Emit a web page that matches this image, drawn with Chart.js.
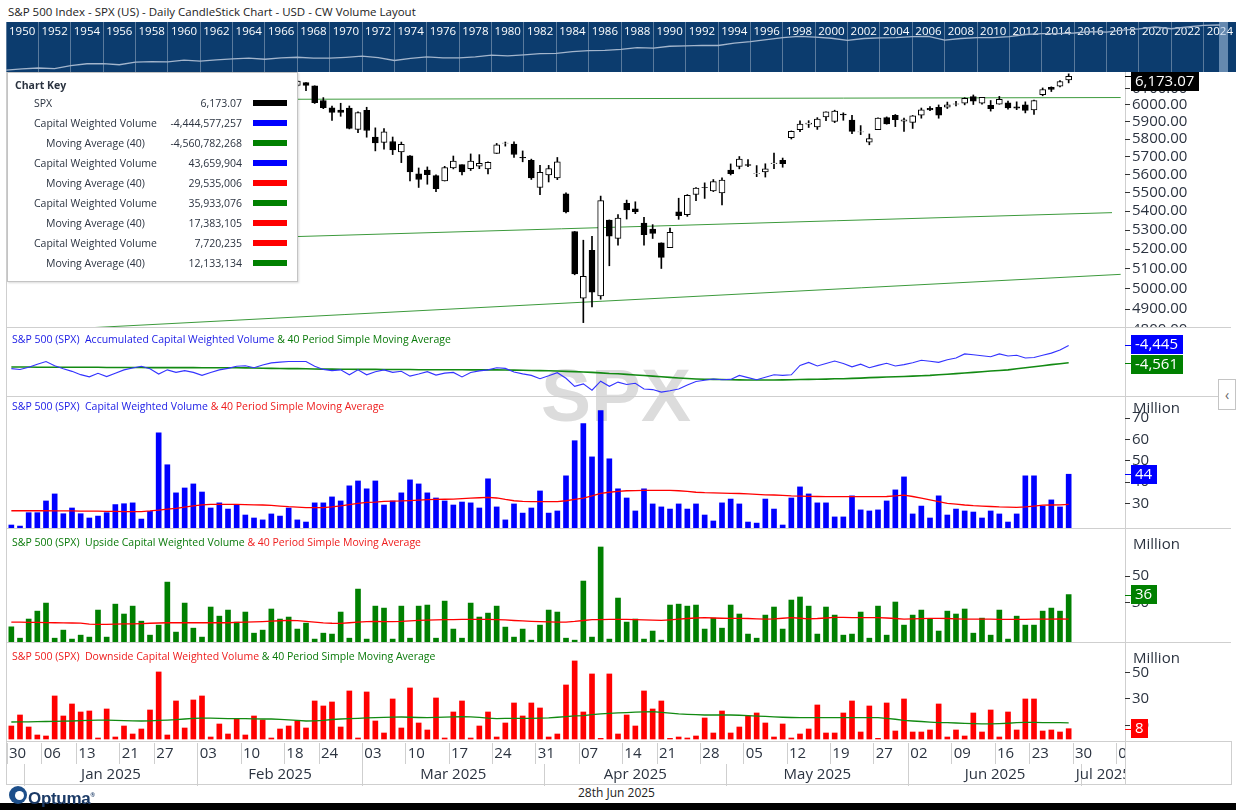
<!DOCTYPE html>
<html><head><meta charset="utf-8">
<title>S&P 500 CW Volume Layout</title>
<script src="https://cdn.jsdelivr.net/npm/chart.js@4.4.1/dist/chart.umd.min.js"></script>
<style>
html,body{margin:0;padding:0;background:#fff;}
#root{position:relative;width:1236px;height:810px;overflow:hidden;font-family:"Open Sans",sans-serif;color:#2b3340;}
#root canvas{position:absolute;z-index:2;}
.ln{position:absolute;background:#cfcfcf;z-index:1;}
.ttl{position:absolute;left:12px;font-size:10.5px;white-space:nowrap;line-height:14px;z-index:3;}
.mil{position:absolute;left:1133px;font-size:15px;line-height:18px;color:#2b3340;z-index:3;}
#key{position:absolute;left:7px;top:72px;width:289px;height:208px;background:#fff;border:1px solid #c4c4c4;box-shadow:1px 1px 2px rgba(0,0,0,0.15);z-index:5;font-size:10.5px;color:#2b3340;}
#key div{position:absolute;white-space:nowrap;line-height:14px;}
#wm{position:absolute;left:541px;top:358px;font-family:"Liberation Sans",sans-serif;font-weight:bold;font-size:75px;line-height:75px;color:#dcdcdc;z-index:0;}
#band{position:absolute;top:22px;height:50px;background:rgba(175,200,230,0.55);z-index:3;}
</style></head>
<body>
<div id="root">
  <div style="position:absolute;left:8px;top:4px;font-size:11.5px;line-height:16px;color:#222;">S&amp;P 500 Index - SPX (US) - Daily CandleStick Chart - USD - CW Volume Layout</div>
  <div style="position:absolute;left:6px;top:22px;width:1230px;height:50px;background:#0c3c6e;"></div>
  <div id="wm">SPX</div>

  <div class="ln" style="left:6px;top:72px;width:1px;height:713px;"></div>
  <div class="ln" style="left:1125px;top:72px;width:1px;height:713px;"></div>
  <div class="ln" style="left:6px;top:327px;width:1225px;height:1px;"></div>
  <div class="ln" style="left:6px;top:396px;width:1225px;height:1px;"></div>
  <div class="ln" style="left:6px;top:528px;width:1225px;height:1px;"></div>
  <div class="ln" style="left:6px;top:642px;width:1225px;height:1px;"></div>
  <div class="ln" style="left:6px;top:741px;width:1225px;height:1px;"></div>
  <div class="ln" style="left:6px;top:784px;width:1225px;height:1px;"></div>
  <div class="ln" style="left:1231px;top:741px;width:1px;height:44px;"></div>

  <canvas id="cOver" width="1230" height="50" style="left:6px;top:22px;"></canvas>
  <div id="band"></div>
  <canvas id="cPrice" width="1236" height="255" style="left:0;top:72px;"></canvas>
  <canvas id="cAcc" width="1236" height="69" style="left:0;top:327px;"></canvas>
  <canvas id="cCw" width="1236" height="132" style="left:0;top:396px;"></canvas>
  <canvas id="cUp" width="1236" height="114" style="left:0;top:528px;"></canvas>
  <canvas id="cDown" width="1236" height="99" style="left:0;top:642px;"></canvas>
  <canvas id="cDates" width="1125" height="45" style="left:0;top:741px;"></canvas>

  <div class="ttl" style="top:332px;color:#1a1ae6;">S&amp;P 500 (SPX)&nbsp; Accumulated Capital Weighted Volume <span style="color:#0a7a0a;">&amp; 40 Period Simple Moving Average</span></div>
  <div class="ttl" style="top:399px;color:#1a1ae6;">S&amp;P 500 (SPX)&nbsp; Capital Weighted Volume <span style="color:#ee1c1c;">&amp; 40 Period Simple Moving Average</span></div>
  <div class="ttl" style="top:535px;color:#0a7a0a;">S&amp;P 500 (SPX)&nbsp; Upside Capital Weighted Volume <span style="color:#ee1c1c;">&amp; 40 Period Simple Moving Average</span></div>
  <div class="ttl" style="top:649px;color:#ee1c1c;">S&amp;P 500 (SPX)&nbsp; Downside Capital Weighted Volume <span style="color:#0a7a0a;">&amp; 40 Period Simple Moving Average</span></div>

  <div class="mil" style="top:398px;">Million</div>
  <div class="mil" style="top:534px;">Million</div>
  <div class="mil" style="top:648px;">Million</div>

  <div id="key"></div>

  <div style="position:absolute;left:1218px;top:379px;width:16px;height:29px;background:#fff;border:1px solid #c4c4c4;z-index:4;font-size:14px;line-height:29px;text-align:center;color:#666;">&#8249;</div>

  <div style="position:absolute;left:9px;top:786px;width:18px;height:18px;border-radius:50%;background:#1d4f8a;z-index:3;"></div>
  <div style="position:absolute;left:15px;top:791px;width:9px;height:9px;border-radius:50%;background:#fff;z-index:3;"></div>
  <div style="position:absolute;left:28px;top:784px;font-family:'Liberation Sans Narrow','Liberation Sans',sans-serif;font-weight:bold;font-size:17px;line-height:22px;color:#1b3a66;letter-spacing:-0.3px;z-index:3;">Optuma<sup style="font-size:6px;">&reg;</sup></div>
  <div style="position:absolute;left:578px;top:785px;font-size:12px;line-height:16px;color:#222;">28th Jun 2025</div>
  <div style="position:absolute;left:0;top:803px;width:1236px;height:7px;background:#000;"></div>
</div>

<script>
// ---------------- DATA ----------------
const dates = [
'2024-12-30','2024-12-31','2025-01-02','2025-01-03','2025-01-06','2025-01-07','2025-01-08','2025-01-10',
'2025-01-13','2025-01-14','2025-01-15','2025-01-16','2025-01-17',
'2025-01-21','2025-01-22','2025-01-23','2025-01-24',
'2025-01-27','2025-01-28','2025-01-29','2025-01-30','2025-01-31',
'2025-02-03','2025-02-04','2025-02-05','2025-02-06','2025-02-07',
'2025-02-10','2025-02-11','2025-02-12','2025-02-13','2025-02-14',
'2025-02-18','2025-02-19','2025-02-20','2025-02-21',
'2025-02-24','2025-02-25','2025-02-26','2025-02-27','2025-02-28',
'2025-03-03','2025-03-04','2025-03-05','2025-03-06','2025-03-07',
'2025-03-10','2025-03-11','2025-03-12','2025-03-13','2025-03-14',
'2025-03-17','2025-03-18','2025-03-19','2025-03-20','2025-03-21',
'2025-03-24','2025-03-25','2025-03-26','2025-03-27','2025-03-28',
'2025-03-31','2025-04-01','2025-04-02','2025-04-03','2025-04-04',
'2025-04-07','2025-04-08','2025-04-09','2025-04-10','2025-04-11',
'2025-04-14','2025-04-15','2025-04-16','2025-04-17',
'2025-04-21','2025-04-22','2025-04-23','2025-04-24','2025-04-25',
'2025-04-28','2025-04-29','2025-04-30','2025-05-01','2025-05-02',
'2025-05-05','2025-05-06','2025-05-07','2025-05-08','2025-05-09',
'2025-05-12','2025-05-13','2025-05-14','2025-05-15','2025-05-16',
'2025-05-19','2025-05-20','2025-05-21','2025-05-22','2025-05-23',
'2025-05-27','2025-05-28','2025-05-29','2025-05-30',
'2025-06-02','2025-06-03','2025-06-04','2025-06-05','2025-06-06',
'2025-06-09','2025-06-10','2025-06-11','2025-06-12','2025-06-13',
'2025-06-16','2025-06-17','2025-06-18','2025-06-20',
'2025-06-23','2025-06-24','2025-06-25','2025-06-26','2025-06-27',
'2025-06-30','2025-07-01','2025-07-02','2025-07-03','2025-07-04','2025-07-07'];

const open = [5920.67,5919.74,5903.26,5891.07,5982.81,5993.26,5910.66,5890.32,
5786.99,5859.0,5905.0,5966.0,5982.0,
6014.0,6081.0,6076.0,6121.0,
5969.0,6026.0,6057.0,6050.0,6096.0,
5969.0,5998.0,6020.0,6072.0,6083.0,
6046.0,6049.0,6025.0,6060.0,6115.0,
6121.0,6117.0,6134.0,6114.0,
6026.0,5982.0,5970.0,5981.0,5856.0,
5968.0,5812.0,5781.0,5786.0,5726.0,
5705.0,5604.0,5625.0,5594.0,5564.0,
5636.0,5655.0,5632.0,5647.0,5631.0,
5718.0,5776.0,5772.0,5696.0,5679.0,
5528.0,5598.0,5581.0,5493.0,5292.0,
4954.0,5194.0,4965.0,5353.0,5256.0,
5442.0,5412.0,5336.0,5305.0,
5233.0,5208.0,5396.0,5381.0,5490.0,
5529.0,5509.0,5499.0,5625.0,5645.0,
5655.0,5606.0,5614.0,5660.0,5679.0,
5808.0,5854.0,5887.0,5870.0,5929.0,
5903.0,5945.0,5911.0,5841.0,5782.0,
5854.0,5925.0,5939.0,5904.0,
5897.0,5939.0,5979.0,5986.0,5987.0,
6005.0,6010.0,6049.0,6010.0,5997.0,
6004.0,6012.0,5988.0,6000.0,
5970.0,6061.0,6105.0,6112.0,6151.0];

const high = [5940.79,5929.74,5935.09,5949.34,6021.04,6000.68,5927.89,5890.32,
5837.14,5871.0,5960.0,5967.0,6014.0,
6051.0,6100.0,6118.7,6128.2,
6017.0,6074.0,6062.0,6086.0,6121.0,
6022.0,6042.0,6062.0,6084.0,6101.0,
6073.0,6076.0,6063.0,6116.0,6127.0,
6129.6,6147.4,6134.5,6114.8,
6043.6,5992.7,6009.8,5993.7,5959.4,
5986.0,5865.0,5860.6,5812.0,5783.0,
5705.4,5636.3,5642.2,5597.8,5645.3,
5703.5,5654.5,5715.3,5711.2,5670.8,
5775.1,5783.2,5784.0,5732.3,5685.9,
5650.6,5650.8,5695.3,5499.5,5292.1,
5246.7,5267.5,5481.3,5353.2,5381.5,
5459.5,5450.4,5367.2,5328.3,
5232.9,5309.6,5469.7,5489.4,5528.1,
5553.7,5572.0,5581.8,5658.9,5700.7,
5684.0,5649.6,5659.8,5720.1,5692.0,
5847.2,5906.6,5906.8,5924.7,5958.6,
5968.6,5953.1,5938.4,5878.1,5829.5,
5924.3,5929.0,5943.1,5922.1,
5937.4,5981.4,5990.5,5999.7,6016.9,
6021.3,6043.0,6059.4,6045.4,6026.2,
6050.8,6023.3,6018.3,6018.2,
6028.1,6101.8,6108.5,6146.5,6187.7];

const low = [5869.16,5868.86,5829.53,5888.66,5960.01,5890.68,5874.78,5809.0,
5773.31,5805.0,5905.0,5932.0,5974.0,
6006.0,6076.0,6074.0,6088.0,
5962.0,5994.0,6012.0,6032.0,6030.0,
5923.9,5990.0,6007.0,6046.0,6019.0,
6044.0,6042.0,6003.0,6051.0,6107.0,
6099.0,6111.0,6084.6,6008.6,
5977.8,5908.5,5932.7,5858.8,5837.7,
5810.9,5732.6,5742.4,5711.6,5666.3,
5564.0,5528.4,5546.1,5504.7,5563.9,
5631.1,5597.8,5622.2,5632.3,5603.1,
5718.1,5759.7,5695.8,5670.9,5572.4,
5488.7,5558.5,5571.5,5390.8,5069.9,
4835.0,4910.4,4948.4,5115.3,5220.8,
5358.0,5386.4,5220.8,5255.6,
5101.6,5207.7,5356.4,5372.0,5455.9,
5468.6,5505.7,5433.2,5597.4,5631.3,
5643.3,5587.9,5585.7,5632.7,5640.3,
5800.5,5843.1,5867.1,5855.9,5907.4,
5895.7,5909.3,5830.9,5825.8,5767.4,
5854.1,5886.3,5872.1,5843.7,
5861.4,5921.4,5966.1,5921.2,5978.6,
5994.2,6000.3,6002.3,6003.9,5963.2,
6004.0,5974.8,5971.9,5952.6,
5943.2,6054.6,6080.1,6107.3,6132.4];

const close = [5906.94,5881.63,5868.55,5942.47,5975.38,5909.03,5918.25,5827.04,
5836.22,5842.91,5949.91,5937.34,5996.66,
6049.24,6086.37,6118.71,6101.24,
6012.28,6067.70,6039.31,6071.17,6040.53,
5994.57,6037.88,6061.48,6083.57,6025.99,
6066.44,6068.50,6051.97,6115.07,6114.63,
6129.58,6144.15,6117.52,6013.13,
5983.25,5955.25,5956.06,5861.57,5954.50,
5849.72,5778.15,5842.63,5738.52,5770.20,
5614.56,5572.07,5599.30,5521.52,5638.94,
5675.12,5614.66,5675.29,5662.89,5667.56,
5767.57,5776.65,5712.20,5693.31,5580.94,
5611.85,5633.07,5670.97,5396.52,5074.08,
5062.25,4982.77,5456.90,5268.05,5363.36,
5405.97,5396.63,5275.70,5282.70,
5158.20,5287.76,5375.86,5484.77,5525.21,
5528.75,5560.83,5569.06,5604.14,5686.67,
5650.38,5606.91,5631.28,5663.94,5659.91,
5844.19,5886.55,5892.58,5916.93,5958.38,
5963.60,5940.46,5844.61,5842.01,5802.82,
5921.54,5888.55,5912.17,5911.69,
5935.94,5970.37,5970.81,5939.30,6000.36,
6005.88,6038.81,6022.24,6045.26,5976.97,
6033.11,5982.72,5980.87,5967.84,
6025.17,6092.18,6092.16,6141.02,6173.07];

// trend lines drawn on the price panel: [start value, end value]
const trendUpper = [6030, 6044];
const trendUpperDates = ['2024-12-30', '2025-07-07'];
const trendMiddle = [5222, 5392];
const trendMiddleDates = ['2024-12-30', '2025-07-04'];
const trendLower = [4791, 5072];
const trendLowerDates = ['2024-12-30', '2025-07-07'];

// Accumulated capital weighted volume (millions) and its 40 period SMA
const accumCW = [-4600,-4606,-4590,-4570,-4552,-4580,-4600,-4618,-4640,-4655,
-4631,-4653,-4630,-4608,-4595,-4584,-4601,-4636,-4608,-4625,
-4613,-4625,-4645,-4625,-4608,-4598,-4584,-4580,-4594,-4575,
-4561,-4556,-4552,-4552,-4552,-4584,-4605,-4613,-4608,-4641,
-4608,-4641,-4620,-4608,-4625,-4617,-4650,-4636,-4620,-4643,
-4630,-4625,-4655,-4625,-4615,-4608,-4594,-4598,-4622,-4635,
-4645,-4667,-4648,-4627,-4664,-4718,-4702,-4744,-4684,-4718,
-4690,-4706,-4698,-4736,-4740,-4757,-4748,-4736,-4710,-4686,
-4678,-4669,-4674,-4672,-4645,-4660,-4674,-4658,-4641,-4645,
-4641,-4578,-4558,-4582,-4565,-4549,-4565,-4588,-4570,-4594,
-4578,-4564,-4582,-4573,-4560,-4544,-4550,-4558,-4540,-4529,
-4501,-4507,-4513,-4520,-4501,-4515,-4510,-4529,-4525,-4510,
-4496,-4475,-4444.58];

const accumCWMA = [-4589,-4589,-4589,-4590,-4590,-4590,-4590,-4591,-4591,-4591,
-4591,-4592,-4592,-4592,-4592,-4592,-4593,-4593,-4593,-4593,
-4593,-4593,-4594,-4594,-4594,-4594,-4594,-4595,-4596,-4597,
-4598,-4599,-4600,-4600,-4601,-4602,-4603,-4603,-4604,-4604,
-4605,-4605,-4605,-4606,-4606,-4606,-4606,-4607,-4607,-4607,
-4607,-4607,-4607,-4608,-4608,-4608,-4608,-4609,-4610,-4611,
-4612,-4613,-4614,-4616,-4618,-4620,-4622,-4625,-4628,-4632,
-4634,-4638,-4642,-4646,-4650,-4654,-4658,-4662,-4666,-4669,
-4671,-4672,-4673,-4674,-4675,-4676,-4676,-4676,-4676,-4675,
-4674,-4673,-4672,-4671,-4670,-4668,-4667,-4665,-4663,-4660,
-4658,-4656,-4654,-4652,-4650,-4647,-4645,-4641,-4637,-4633,
-4629,-4625,-4621,-4616,-4612,-4608,-4601,-4594,-4587,-4580,
-4573,-4567,-4560.78];

// Capital weighted volume (millions) and its 40 period SMA
const cwVolume = [19.8,19.3,25.6,25.6,31.1,34.4,25.1,27.8,25.1,23.1,
24.0,25.6,29.4,29.8,30.2,22.6,26.2,63.1,48.1,34.9,
37.2,39.1,35.3,27.8,30.2,27.3,29.4,24.5,23.1,22.2,
25.0,24.0,27.8,22.2,21.2,30.2,30.2,33.0,31.1,38.2,
40.5,36.8,40.5,29.2,31.1,34.9,41.0,39.1,34.9,32.5,
31.1,29.2,30.6,30.2,27.8,41.5,28.3,22.2,29.7,25.4,
27.8,35.8,25.4,26.4,42.9,59.4,67.4,51.8,73.5,50.9,
36.8,32.5,26.4,36.8,29.7,28.3,27.3,29.7,27.3,29.7,
24.5,21.7,30.2,32.0,29.7,21.2,20.7,32.0,27.3,19.8,
32.5,37.7,34.4,30.2,30.2,23.6,23.6,33.5,26.9,26.4,
26.9,31.1,36.3,42.4,25.0,28.7,23.1,33.5,24.5,27.3,
26.4,25.9,23.1,26.4,25.0,21.2,25.0,42.9,42.9,28.7,
31.6,28.3,43.66];

const cwVolumeMA = [26.5,26.5,26.5,26.5,26.5,26.4,26.4,26.4,26.3,26.3,
26.3,26.2,26.2,26.1,26.1,26.1,26.4,26.8,27.3,27.6,
28.2,28.8,29.3,29.5,29.5,29.5,29.5,29.4,29.3,29.2,
29.0,28.7,28.4,28.2,28.0,28.0,28.0,28.3,28.8,29.4,
30.0,30.4,30.6,30.9,31.0,31.1,31.3,31.5,31.7,31.8,
31.9,32.0,32.2,32.4,32.6,32.8,32.5,31.8,31.2,30.9,
30.8,30.8,30.8,30.8,31.2,31.8,32.4,33.5,34.7,35.2,
35.6,35.9,36.0,36.1,36.1,36.1,36.1,35.9,35.6,35.2,
35.0,34.9,34.8,34.7,34.6,34.4,34.2,34.0,33.9,33.7,
33.5,33.4,33.3,33.2,33.1,33.1,33.1,33.1,33.1,33.1,
33.1,33.2,33.5,33.8,33.2,32.4,31.6,30.8,30.0,29.6,
29.2,28.9,28.7,28.5,28.3,28.2,28.1,28.3,28.7,29.1,
29.2,29.3,29.54];

// Upside capital weighted volume (millions) and its 40 period SMA
const upVolume = [11.5,2.9,17.4,23.4,29.5,2.9,9.0,2.2,5.2,3.7,
24.2,3.7,28.7,21.2,27.2,15.8,5.2,12.8,45.4,7.5,
29.5,10.5,3.7,26.5,19.6,24.2,15.1,22.7,6.7,9.0,
25.0,17.4,18.9,9.8,14.3,2.2,6.7,6.0,22.7,2.9,
40.1,2.2,27.2,25.7,2.2,27.2,2.9,27.2,28.0,2.9,
31.0,9.8,2.9,29.5,18.9,21.9,27.2,11.3,3.7,9.8,
1.4,12.8,24.2,22.7,2.9,1.4,46.2,3.7,72.0,2.2,
33.3,15.1,17.4,2.2,8.3,1.4,28.0,28.7,27.2,28.0,
9.8,18.1,10.5,28.0,21.2,6.0,2.9,20.4,26.5,9.8,
31.8,34.1,27.2,6.0,26.5,20.4,5.2,6.0,22.7,2.9,
27.2,5.2,30.3,12.8,20.4,24.2,17.4,8.3,23.4,21.2,
25.0,6.7,18.1,5.2,24.2,2.2,19.6,12.8,12.8,23.4,
25.7,23.4,35.93];

const upVolumeMA = [15.1,15.0,14.9,14.8,14.7,14.6,14.5,14.4,
14.3,13.5,13.3,13.4,13.6,13.7,13.8,14.0,
14.2,14.4,14.6,14.6,14.6,14.6,14.6,14.6,14.6,14.6,
14.8,15.0,15.2,15.5,15.8,16.1,16.4,16.2,15.6,15.0,
14.5,14.2,14.1,14.6,15.1,15.5,15.6,15.4,15.5,15.6,
16.0,16.4,16.6,16.7,16.9,17.0,17.1,17.1,17.1,17.1,
17.0,16.7,16.3,16.0,15.7,15.4,15.2,15.1,15.1,15.6,
16.3,16.9,17.0,17.1,17.1,17.1,17.0,16.8,16.6,16.4,
16.8,17.3,17.8,18.2,18.4,18.2,18.0,17.9,17.9,17.8,
17.6,17.4,17.6,18.0,18.4,18.0,17.6,17.8,18.2,18.6,
18.6,18.5,18.4,18.4,18.4,18.2,17.8,17.4,17.5,17.7,
17.9,17.9,17.8,17.6,17.4,17.4,17.4,17.3,17.2,17.1,
17.1,17.2,17.3,17.4,17.4,17.5,17.38];

// Downside capital weighted volume (millions) and its 40 period SMA
const downVolume = [9.75,18,9,3,2.25,32.25,17.25,26.25,20.25,21,
0.75,22.5,1.5,9.75,3.75,7.5,21.75,50.25,3,28.5,
8.25,29.25,32.25,1.5,11.25,3.75,15,3,17.25,14.25,
0.75,7.5,9.75,13.5,8.25,28.5,24.75,27.75,9,36,
0.75,35.25,13.5,4.5,30,8.25,38.25,12,6.75,30.75,
0.75,20.25,28.5,0.75,9.75,20.25,1.5,12,27,17.25,
27,23.25,1.5,3.75,40.5,58.5,20.25,48.75,0.5,48.75,
3.75,18,9.75,36,22.5,28.5,0.5,1.5,0.75,2.25,
15.75,4.5,21,4.5,9,17.25,19.5,12,1.5,11.25,
0.75,3.75,7.5,25.5,4.5,4.5,19.5,28.5,5.25,24.75,
0.5,27,6,30,5.25,5.25,6.75,26.25,1.5,6.75,
2.25,19.5,5.25,21.75,1.5,20.25,6.75,30,30,6,
6.75,5.25,7.72];

const downVolumeMA = [12.75,12.8,12.9,13.0,13.1,13.2,13.4,13.5,
13.7,14.0,14.2,14.2,14.0,13.8,13.6,13.5,
13.6,13.9,14.2,14.5,15.0,15.5,15.7,15.6,15.4,15.3,
15.2,15.2,15.1,15.0,15.0,14.7,14.3,13.9,13.5,13.6,
14.0,14.6,15.0,15.3,15.5,15.8,16.0,16.2,16.4,16.5,
16.3,16.1,16.0,16.2,16.4,16.6,16.8,16.6,16.2,15.6,
15.3,15.4,15.5,15.5,15.5,15.6,15.8,16.3,16.8,17.3,
17.5,18.2,18.8,19.2,19.6,19.8,20.1,20.4,20.5,20.0,
19.4,18.8,18.5,18.2,18.0,18.0,18.0,18.0,17.8,17.5,
17.2,16.9,16.6,16.3,16.1,16.0,16.0,16.0,16.0,16.0,
16.0,16.0,16.0,16.0,16.0,15.5,14.8,14.0,13.5,13.1,
12.7,12.3,12.2,12.0,11.7,11.5,11.3,11.3,11.5,11.8,
12.2,12.5,12.4,12.3,12.2,12.2,12.13];

// Axis tick values
const priceTicks = [4800,4900,5000,5100,5200,5300,5400,5500,5600,5700,5800,5900,6000,6100];
const cwTicks = [30,40,50,60,70];
const upTicks = [30,50];
const downTicks = [10,30,50];

// Overview strip: S&P 500 year-end history
const overviewYears = [1950,1951,1952,1953,1954,1955,1956,1957,1958,1959,1960,1961,1962,1963,1964,1965,1966,1967,1968,1969,
1970,1971,1972,1973,1974,1975,1976,1977,1978,1979,1980,1981,1982,1983,1984,1985,1986,1987,1988,1989,
1990,1991,1992,1993,1994,1995,1996,1997,1998,1999,2000,2001,2002,2003,2004,2005,2006,2007,2008,2009,
2010,2011,2012,2013,2014,2015,2016,2017,2018,2019,2020,2021,2022,2023,2024,2025];
const overviewClose = [20.41,23.77,26.57,24.81,35.98,45.48,46.67,39.99,55.21,59.89,58.11,71.55,63.10,75.02,84.75,92.43,80.33,96.47,103.86,92.06,
92.15,102.09,118.05,97.55,68.56,90.19,107.46,95.10,96.11,107.94,135.76,122.55,140.64,164.93,167.24,211.28,242.17,247.08,277.72,353.40,
330.22,417.09,435.71,466.45,459.27,615.93,740.74,970.43,1229.23,1469.25,1320.28,1148.08,879.82,1111.92,1211.92,1248.29,1418.30,1468.36,903.25,1115.10,
1257.64,1257.60,1426.19,1848.36,2058.90,2043.94,2238.83,2673.61,2506.85,3230.78,3756.07,4766.18,3839.50,4769.83,5881.63,6173.07];
const overviewLabels = ['1950','1952','1954','1956','1958','1960','1962','1964','1966','1968','1970','1972','1974','1976','1978','1980','1982','1984','1986',
'1988','1990','1992','1994','1996','1998','2000','2002','2004','2006','2008','2010','2012','2014','2016','2018','2020','2022','2024'];
const viewWindow = [2024.95, 2025.5];

// Chart key
const keyLabels = ['SPX','Capital Weighted Volume','Moving Average (40)','Capital Weighted Volume','Moving Average (40)','Capital Weighted Volume','Moving Average (40)','Capital Weighted Volume','Moving Average (40)'];
const keyValues = ['6,173.07','-4,444,577,257','-4,560,782,268','43,659,904','29,535,006','35,933,076','17,383,105','7,720,235','12,133,134'];
const keyColors = ['#000000','#0000ff','#008000','#0000ff','#ff0000','#008000','#ff0000','#ff0000','#008000'];

// ---------------- KEY BOX ----------------
(function(){
  const k = document.getElementById('key');
  let h = '<div style="left:7px;top:5px;font-weight:bold;">Chart Key</div>';
  keyLabels.forEach((lab,i)=>{
    const cy = 30 + 20*i;
    const indent = lab.indexOf('Moving') === 0 ? 38 : 26;
    h += '<div style="left:'+indent+'px;top:'+(cy-7)+'px;">'+lab+'</div>';
    h += '<div style="left:120px;width:114px;text-align:right;top:'+(cy-7)+'px;">'+keyValues[i]+'</div>';
    h += '<div style="left:245px;top:'+(cy-3)+'px;width:34px;height:6px;background:'+keyColors[i]+';"></div>';
  });
  k.innerHTML = h;
})();

// ---------------- CHART SETUP ----------------
const AX = '#2b3340';
Chart.defaults.font.family = '"Open Sans", sans-serif';

const lastValueBox = {
  id: 'lastValueBox',
  afterDraw(chart, args, opts) {
    const items = (opts && opts.items) || [];
    if (!items.length) return;
    const ctx = chart.ctx, ca = chart.chartArea, ys = chart.scales.y;
    ctx.save();
    ctx.font = '15px "Open Sans", sans-serif';
    const H = 19;
    const bx = items.map(it => {
      const v = it.values[it.values.length - 1];
      const y = ys.getPixelForValue(v);
      const txt = it.fmt(v);
      const w = Math.ceil(ctx.measureText(txt).width) + 8;
      return {it, y, txt, w, top: y - H / 2};
    });
    bx.sort((a, b) => a.y - b.y);
    for (let k = 1; k < bx.length; k++) {
      const p = bx[k - 1], q = bx[k];
      const ov = p.top + H + 1 - q.top;
      if (ov > 0) { p.top -= ov / 2; q.top += ov / 2; }
    }
    bx.forEach(b => {
      b.top = Math.round(Math.max(ca.top, Math.min(ca.bottom - H, b.top)));
      const x0 = Math.round(ca.right) + 6;
      ctx.strokeStyle = b.it.bg; ctx.lineWidth = 1;
      ctx.beginPath(); ctx.moveTo(ca.right, Math.round(b.y) + 0.5); ctx.lineTo(x0, Math.round(b.y) + 0.5); ctx.stroke();
      ctx.fillStyle = b.it.bg; ctx.fillRect(x0, b.top, b.w, H);
      ctx.fillStyle = '#fff'; ctx.textBaseline = 'middle'; ctx.textAlign = 'left';
      ctx.fillText(b.txt, x0 + 4, b.top + H / 2 + 0.5);
    });
    ctx.restore();
  }
};
Chart.register(lastValueBox);

function baseOptions(scales, boxes) {
  return {
    responsive: false, animation: false, devicePixelRatio: 1,
    layout: {padding: {left: 7, right: 0, top: 0, bottom: 0}},
    plugins: {legend: {display: false}, tooltip: {enabled: false}, lastValueBox: {items: boxes || []}},
    scales: scales
  };
}
function hiddenX() {
  return {type: 'category', labels: dates, offset: true, display: false, grid: {display: false}};
}
function rightY(min, max, ticksArr, fmt, type) {
  return {
    type: type || 'linear', position: 'right', min: min, max: max,
    afterBuildTicks: s => { s.ticks = ticksArr.map(v => ({value: v})); },
    afterFit: s => { s.width = 111; s.paddingTop = 0; s.paddingBottom = 0; },
    grid: {drawOnChartArea: false, drawTicks: true, tickLength: 5, color: '#333'},
    border: {display: false},
    ticks: {color: AX, font: {size: 15}, padding: 2, autoSkip: false, callback: fmt}
  };
}
const lineDs = (data, color, width) => ({type: 'line', data: data, borderColor: color, borderWidth: width, pointRadius: 0, tension: 0, fill: false});
const barDs = (data, color) => ({type: 'bar', data: data, backgroundColor: color, barThickness: 5, order: 2});

// ---------------- OVERVIEW STRIP ----------------
const overChart = new Chart(document.getElementById('cOver'), {
  type: 'line',
  data: {datasets: [
    {type: 'line', xAxisID: 'x', yAxisID: 'y', data: overviewYears.map((yr, i) => ({x: yr, y: overviewClose[i]})),
     borderColor: '#a3b5cc', borderWidth: 1.3, pointRadius: 0, tension: 0}
  ]},
  options: {
    responsive: false, animation: false, devicePixelRatio: 1,
    layout: {padding: 0},
    plugins: {legend: {display: false}, tooltip: {enabled: false}},
    scales: {
      x: {type: 'linear', min: 1950, max: 2026, display: false, offset: false},
      y: {type: 'logarithmic', min: 16, max: 9000, display: false},
      xl: {type: 'category', labels: overviewLabels, offset: true, position: 'bottom',
        afterFit: s => { s.height = 0; s.paddingLeft = 0; s.paddingRight = 0; },
        grid: {offset: true, drawOnChartArea: true, drawTicks: false, color: 'rgba(255,255,255,0.32)'},
        border: {display: false},
        ticks: {color: '#ffffff', font: {size: 11.5}, mirror: true, padding: 33, autoSkip: false, maxRotation: 0}}
    }
  }
});
// visible-window marker, placed with the overview chart's own x scale
(function(){
  const xs = overChart.scales.x;
  const a = xs.getPixelForValue(viewWindow[0]), b = xs.getPixelForValue(viewWindow[1]);
  const band = document.getElementById('band');
  band.style.left = (6 + a) + 'px';
  band.style.width = Math.max(1, b - a) + 'px';
})();

// ---------------- PRICE PANEL ----------------
new Chart(document.getElementById('cPrice'), {
  type: 'bar',
  data: {labels: dates, datasets: [
    {type: 'bar', data: close.map((c, i) => [open[i], c]),
     backgroundColor: c => close[c.dataIndex] >= open[c.dataIndex] ? '#ffffff' : '#000000',
     borderColor: '#000', borderWidth: 1, borderSkipped: false, barThickness: 6, grouped: false, order: 0},
    {type: 'bar', data: high.map((h, i) => [low[i], h]), backgroundColor: '#000', barThickness: 1, grouped: false, order: 1},
    Object.assign(lineDs(trendUpperDates.map((d, i) => ({x: d, y: trendUpper[i]})), '#3c9a3c', 1), {order: 3}),
    Object.assign(lineDs(trendMiddleDates.map((d, i) => ({x: d, y: trendMiddle[i]})), '#3c9a3c', 1), {order: 3}),
    Object.assign(lineDs(trendLowerDates.map((d, i) => ({x: d, y: trendLower[i]})), '#3c9a3c', 1), {order: 3})
  ]},
  options: baseOptions({
    x: hiddenX(),
    y: rightY(4814, 6199, priceTicks, v => Number(v).toFixed(2), 'logarithmic')
  }, [{values: close, bg: '#000000', fmt: v => v.toLocaleString('en-US', {minimumFractionDigits: 2, maximumFractionDigits: 2})}])
});

// ---------------- ACCUMULATED CW VOLUME ----------------
new Chart(document.getElementById('cAcc'), {
  type: 'line',
  data: {labels: dates, datasets: [
    lineDs(accumCW, '#3333ff', 1.1),
    lineDs(accumCWMA, '#138a13', 1.6)
  ]},
  options: baseOptions({
    x: hiddenX(),
    y: {type: 'linear', position: 'right', min: -4783, max: -4321,
        afterFit: s => { s.width = 111; s.paddingTop = 0; s.paddingBottom = 0; },
        grid: {display: false}, border: {display: false}, ticks: {display: false}}
  }, [
    {values: accumCW, bg: '#0000ff', fmt: v => Math.round(v).toLocaleString('en-US')},
    {values: accumCWMA, bg: '#008000', fmt: v => Math.round(v).toLocaleString('en-US')}
  ])
});

// ---------------- CW VOLUME ----------------
new Chart(document.getElementById('cCw'), {
  type: 'bar',
  data: {labels: dates, datasets: [
    Object.assign(lineDs(cwVolumeMA, '#ff0000', 1.3), {order: 1}),
    barDs(cwVolume, '#0000ff')
  ]},
  options: baseOptions({x: hiddenX(), y: rightY(18.4, 80.4, cwTicks, v => String(v))},
    [{values: cwVolume, bg: '#0000ff', fmt: v => String(Math.round(v))}])
});

// ---------------- UPSIDE CW VOLUME ----------------
new Chart(document.getElementById('cUp'), {
  type: 'bar',
  data: {labels: dates, datasets: [
    Object.assign(lineDs(upVolumeMA, '#ff0000', 1.3), {order: 1}),
    barDs(upVolume, '#008000')
  ]},
  options: baseOptions({x: hiddenX(), y: rightY(0, 86.4, upTicks, v => String(v))},
    [{values: upVolume, bg: '#008000', fmt: v => String(Math.round(v))}])
});

// ---------------- DOWNSIDE CW VOLUME ----------------
new Chart(document.getElementById('cDown'), {
  type: 'bar',
  data: {labels: dates, datasets: [
    Object.assign(lineDs(downVolumeMA, '#118a11', 1.3), {order: 1}),
    barDs(downVolume, '#ff0000')
  ]},
  options: baseOptions({x: hiddenX(), y: rightY(-1.5, 72.7, downTicks, v => String(v))},
    [{values: downVolume, bg: '#ff0000', fmt: v => String(Math.round(v))}])
});

// ---------------- DATE AXIS ----------------
const dow = d => new Date(d + 'T00:00:00Z').getUTCDay();
const weekIdx = [];
dates.forEach((d, i) => { if (i === 0 || dow(d) < dow(dates[i - 1])) weekIdx.push(i); });
const MONTHS = ['Jan','Feb','Mar','Apr','May','Jun','Jul','Aug','Sep','Oct','Nov','Dec'];
const monthTicks = [];
(function(){
  let f = 0;
  for (let i = 1; i <= dates.length; i++) {
    if (i === dates.length || dates[i].slice(0, 7) !== dates[f].slice(0, 7)) {
      const l = i - 1;
      if (f > 0) monthTicks.push({value: f - 0.5, label: ''});
      if (l - f + 1 >= 4) monthTicks.push({value: (f + l) / 2, label: MONTHS[+dates[f].slice(5, 7) - 1] + ' ' + dates[f].slice(0, 4)});
      f = i;
    }
  }
})();
monthTicks.sort((a, b) => a.value - b.value);

new Chart(document.getElementById('cDates'), {
  type: 'line',
  data: {datasets: []},
  options: {
    responsive: false, animation: false, devicePixelRatio: 1,
    layout: {padding: {left: 7, right: 0, top: 0, bottom: 0}},
    plugins: {legend: {display: false}, tooltip: {enabled: false}},
    scales: {
      y: {display: false, min: 0, max: 1},
      xd: {type: 'linear', position: 'bottom', weight: 1, min: -0.5, max: dates.length - 0.5,
        afterBuildTicks: s => { s.ticks = weekIdx.map(i => ({value: i - 0.5})); },
        afterFit: s => { s.height = 21; s.paddingLeft = 0; s.paddingRight = 0; },
        grid: {drawOnChartArea: false, drawTicks: true, tickLength: 21, color: '#cfcfcf'},
        border: {display: false},
        ticks: {autoSkip: false, maxRotation: 0, align: 'start', padding: -19, labelOffset: 2, color: AX, font: {size: 15},
          callback: v => { const i = Math.round(v + 0.5); return dates[i] ? dates[i].slice(8) : ''; }}},
      xm: {type: 'linear', position: 'bottom', weight: 2, min: -0.5, max: dates.length - 0.5,
        afterBuildTicks: s => { s.ticks = monthTicks.map(t => ({value: t.value})); },
        afterFit: s => { s.height = 22; s.paddingLeft = 0; s.paddingRight = 0; },
        grid: {drawOnChartArea: false, drawTicks: true, tickLength: 22,
          color: c => (c.tick && monthTicks.find(t => t.value === c.tick.value && t.label === '')) ? '#cfcfcf' : 'rgba(0,0,0,0)'},
        border: {display: false},
        ticks: {autoSkip: false, maxRotation: 0, padding: -20, color: AX, font: {size: 15},
          callback: v => { const t = monthTicks.find(m => m.value === v); return t ? t.label : ''; }}}
    }
  }
});
</script>
</body></html>
